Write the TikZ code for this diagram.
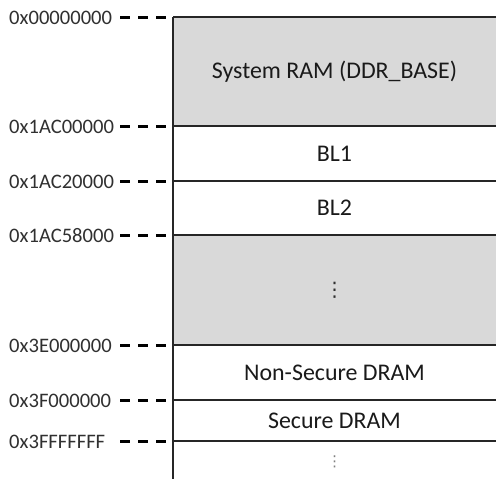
\documentclass[tikz,border=0pt]{standalone}
\usepackage{fontspec}
\setmainfont{Carlito}
\newfontfamily\symfont{DejaVu Sans}
\definecolor{linec}{HTML}{262626}
\definecolor{bandfill}{HTML}{D9D9D9}
\definecolor{textc}{HTML}{1A1A1A}
\definecolor{addrc}{HTML}{303030}
\begin{document}
\begin{tikzpicture}[x=1pt,y=-1pt,
  rule/.style={draw=linec, line width=1.4pt},
  addr/.style={anchor=base west, inner sep=0pt, text=addrc,
    font=\fontsize{20.6}{25}\selectfont},
  tick/.style={draw=black, line width=3pt, dash pattern=on 10pt off 8pt},
  region/.style={text=textc, inner sep=0pt, font=\fontsize{23.9}{28}\selectfont},
  gap/.style={inner sep=0pt}]
\useasboundingbox (0,0) rectangle (496,479);
\fill[white] (0,0) rectangle (496,479);

% shaded regions
\fill[bandfill] (173,17) rectangle (496,126);
\fill[bandfill] (173,235) rectangle (496,345);

% region boundaries
\foreach \n/\y in {0/17,1/126,2/181,3/235,4/345,5/400,6/441}{
  \coordinate (l\n) at (173,\y);
  \coordinate (r\n) at (496,\y);
  \coordinate (d\n) at (120,\y);
  \coordinate (e\n) at (166,\y);
  \draw[rule] (l\n) -- (r\n);
  \draw[tick] (d\n) -- (e\n);
}
\coordinate (bottom) at (173,479);
\draw[rule] (l0) -- (bottom);

% addresses
\node[addr] (a0) at (9,24.5)  {0x00000000};
\node[addr] (a1) at (9,133.5) {0x1AC00000};
\node[addr] (a2) at (9,188.5) {0x1AC20000};
\node[addr] (a3) at (9,242.5) {0x1AC58000};
\node[addr] (a4) at (9,352.5) {0x3E000000};
\node[addr] (a5) at (9,407.5) {0x3F000000};
\node[addr] (a6) at (9,448.5) {0x3FFFFFFF};

% region names
\node[region] (sys) at (334.5,71.5) {System RAM (DDR\_BASE)};
\node[region] (bl1) at (334.5,153.5) {BL1};
\node[region] (bl2) at (334.5,208) {BL2};
\node[gap, text=addrc, font=\symfont\fontsize{20}{20}\selectfont] (gap1) at (334.5,290.5) {⋮};
\node[gap, text=gray, font=\symfont\fontsize{15}{15}\selectfont] (gap2) at (334.5,462) {⋮};
\node[region] (ns) at (334.5,372.5) {Non-Secure DRAM};
\node[region] (sec) at (334.5,420.5) {Secure DRAM};
\end{tikzpicture}
\end{document}
